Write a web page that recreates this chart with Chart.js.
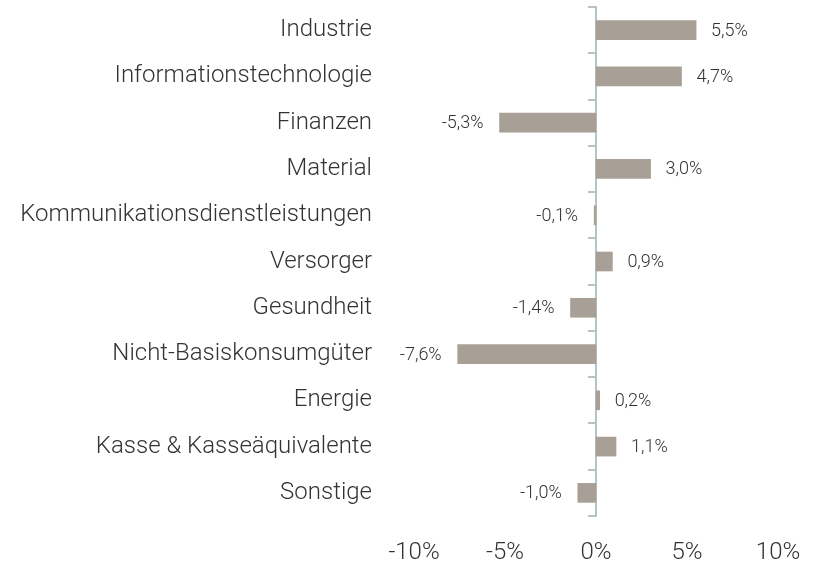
<!DOCTYPE html>
<html>
<head>
<meta charset="utf-8">
<script src="https://cdn.jsdelivr.net/npm/chart.js@4/dist/chart.umd.min.js"></script>
<style>
  html, body { margin: 0; padding: 0; background: #fff; }
  #wrap { width: 815px; height: 564px; position: relative; }
</style>
</head>
<body>
<div id="wrap"><canvas id="c" width="815" height="564"></canvas></div>
<script>
const categories = [
  'Industrie',
  'Informationstechnologie',
  'Finanzen',
  'Material',
  'Kommunikationsdienstleistungen',
  'Versorger',
  'Gesundheit',
  'Nicht-Basiskonsumgüter',
  'Energie',
  'Kasse & Kasseäquivalente',
  'Sonstige'
];
const values = [5.5, 4.7, -5.3, 3.0, -0.1, 0.9, -1.4, -7.6, 0.2, 1.1, -1.0];
const xTicks = [-10, -5, 0, 5, 10];

const FONT = 'Roboto';
const TEXT = '#333333';
const AXIS = '#b5c4c6';
const BAR = '#a89f96';

const fmt = v => v.toFixed(1).replace('.', ',') + '%';

const valueLabels = {
  id: 'valueLabels',
  afterDatasetsDraw(chart) {
    const ctx = chart.ctx;
    const meta = chart.getDatasetMeta(0);
    ctx.save();
    ctx.font = '300 18px ' + FONT;
    ctx.fillStyle = TEXT;
    ctx.textBaseline = 'middle';
    meta.data.forEach((bar, i) => {
      const v = chart.data.datasets[0].data[i];
      if (v >= 0) {
        ctx.textAlign = 'left';
        ctx.fillText(fmt(v), bar.x + 15, bar.y + 1);
      } else {
        ctx.textAlign = 'right';
        ctx.fillText(fmt(v), bar.x - 16, bar.y + 1);
      }
    });
    ctx.restore();
  }
};

new Chart(document.getElementById('c'), {
  type: 'bar',
  data: {
    labels: categories,
    datasets: [{
      data: values,
      backgroundColor: BAR,
      borderWidth: 0,
      barThickness: 19
    }]
  },
  options: {
    indexAxis: 'y',
    responsive: false,
    animation: false,
    layout: { padding: { top: 7, right: 37, bottom: 0, left: 0 } },
    plugins: { legend: { display: false }, tooltip: { enabled: false } },
    scales: {
      x: {
        min: -10, max: 10,
        afterBuildTicks: s => { s.ticks = xTicks.map(v => ({ value: v })); },
        afterFit: s => { s.height = 48; s.paddingLeft = 0; s.paddingRight = 0; },
        grid: { display: false, drawTicks: false },
        border: { display: false },
        ticks: {
          callback: v => v + '%',
          color: TEXT,
          font: { family: FONT, size: 24, weight: 300 },
          padding: 23,
          maxRotation: 0
        }
      },
      y: {
        position: 'left',
        afterFit: s => { s.width = 414; s.paddingTop = 0; s.paddingBottom = 0; },
        grid: { display: false, drawTicks: false },
        border: { display: false },
        ticks: {
          color: TEXT,
          font: { family: FONT, size: 24, weight: 300 },
          padding: 42
        }
      },
      y2: {
        type: 'category',
        axis: 'y',
        position: { x: 0 },
        offset: true,
        z: 1,
        afterFit: s => { s.paddingTop = 0; s.paddingBottom = 0; },
        grid: {
          offset: true,
          drawOnChartArea: false,
          drawTicks: true,
          tickLength: 7,
          color: AXIS,
          lineWidth: 2
        },
        border: { display: true, color: AXIS, width: 2 },
        ticks: { display: false }
      }
    }
  },
  plugins: [valueLabels]
});
</script>
</body>
</html>
